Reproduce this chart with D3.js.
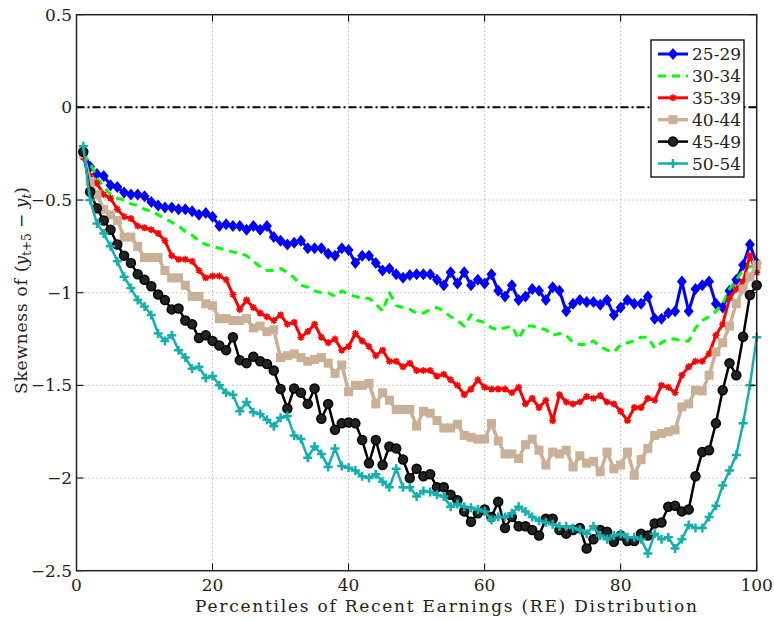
<!DOCTYPE html>
<html>
<head>
<meta charset="utf-8">
<script src="https://cdn.jsdelivr.net/npm/d3@7"></script>
<style>
  body { margin: 0; background: #fff; }
</style>
</head>
<body>
<div id="chart"></div>
<script>
// percentiles of recent earnings
var percentiles = d3.range(1, 101);
var seriesNames = ["25-29", "30-34", "35-39", "40-44", "45-49", "50-54"];
var xTicks = [0, 20, 40, 60, 80, 100];
var yTicks = [-2.5, -2, -1.5, -1, -0.5, 0, 0.5];

var age25 = [-0.24,-0.32,-0.36,-0.37,-0.42,-0.43,-0.46,-0.47,-0.47,-0.48,
  -0.51,-0.53,-0.54,-0.54,-0.55,-0.55,-0.56,-0.58,-0.57,-0.59,
  -0.64,-0.63,-0.64,-0.64,-0.66,-0.64,-0.66,-0.64,-0.70,-0.72,
  -0.74,-0.73,-0.72,-0.76,-0.76,-0.76,-0.79,-0.80,-0.76,-0.77,
  -0.84,-0.80,-0.80,-0.84,-0.88,-0.87,-0.90,-0.92,-0.905,-0.90,
  -0.90,-0.90,-0.93,-0.96,-0.89,-0.95,-0.89,-0.96,-0.93,-0.95,
  -0.90,-0.99,-1.02,-0.96,-1.04,-1.02,-0.98,-0.99,-1.04,-0.97,
  -0.99,-1.10,-1.06,-1.04,-1.05,-1.05,-1.065,-1.04,-1.12,-1.08,
  -1.04,-1.06,-1.06,-1.02,-1.14,-1.14,-1.11,-1.10,-0.94,-1.10,
  -0.98,-0.96,-0.94,-1.06,-1.08,-0.99,-0.93,-0.85,-0.74,-0.84];
var age30 = [-0.25,-0.30,-0.38,-0.43,-0.47,-0.49,-0.50,-0.52,-0.53,-0.55,
  -0.56,-0.58,-0.60,-0.62,-0.64,-0.67,-0.69,-0.72,-0.74,-0.75,
  -0.76,-0.77,-0.78,-0.79,-0.80,-0.83,-0.86,-0.88,-0.88,-0.87,
  -0.89,-0.92,-0.96,-0.97,-0.99,-1.00,-1.00,-1.02,-0.99,-1.01,
  -1.02,-1.03,-1.03,-1.06,-1.10,-1.00,-1.07,-1.08,-1.09,-1.11,
  -1.11,-1.09,-1.08,-1.10,-1.13,-1.15,-1.18,-1.12,-1.15,-1.16,
  -1.19,-1.20,-1.19,-1.18,-1.25,-1.18,-1.18,-1.19,-1.20,-1.23,
  -1.22,-1.23,-1.27,-1.28,-1.28,-1.26,-1.29,-1.31,-1.32,-1.28,
  -1.27,-1.26,-1.24,-1.24,-1.30,-1.27,-1.25,-1.25,-1.26,-1.26,
  -1.19,-1.15,-1.13,-1.10,-1.06,-0.98,-0.93,-0.88,-0.86,-0.85];
var age35 = [-0.27,-0.37,-0.41,-0.47,-0.49,-0.55,-0.59,-0.60,-0.64,-0.65,
  -0.66,-0.68,-0.72,-0.80,-0.82,-0.82,-0.83,-0.88,-0.92,-0.91,
  -0.91,-0.93,-1.01,-1.09,-1.04,-1.08,-1.11,-1.13,-1.15,-1.12,
  -1.17,-1.16,-1.24,-1.21,-1.17,-1.24,-1.27,-1.25,-1.31,-1.29,
  -1.22,-1.26,-1.29,-1.34,-1.31,-1.37,-1.37,-1.40,-1.38,-1.42,
  -1.42,-1.42,-1.45,-1.44,-1.47,-1.50,-1.55,-1.52,-1.47,-1.51,
  -1.52,-1.52,-1.52,-1.54,-1.51,-1.60,-1.57,-1.62,-1.58,-1.69,
  -1.55,-1.59,-1.60,-1.59,-1.56,-1.57,-1.555,-1.59,-1.60,-1.64,
  -1.69,-1.62,-1.62,-1.57,-1.58,-1.50,-1.51,-1.54,-1.445,-1.40,
  -1.37,-1.37,-1.33,-1.23,-1.17,-1.03,-0.98,-0.94,-0.80,-0.89];
var age40 = [-0.25,-0.40,-0.47,-0.55,-0.58,-0.61,-0.70,-0.70,-0.75,-0.81,
  -0.81,-0.81,-0.88,-0.92,-0.92,-0.96,-1.02,-1.02,-1.06,-1.07,
  -1.14,-1.14,-1.15,-1.15,-1.14,-1.19,-1.18,-1.21,-1.20,-1.35,
  -1.34,-1.33,-1.35,-1.37,-1.36,-1.35,-1.38,-1.435,-1.39,-1.535,
  -1.50,-1.50,-1.49,-1.60,-1.54,-1.58,-1.63,-1.63,-1.63,-1.72,
  -1.64,-1.65,-1.69,-1.73,-1.73,-1.71,-1.77,-1.78,-1.79,-1.79,
  -1.705,-1.80,-1.87,-1.87,-1.895,-1.82,-1.79,-1.85,-1.93,-1.86,
  -1.87,-1.85,-1.94,-1.88,-1.92,-1.91,-1.966,-1.86,-1.95,-1.93,
  -1.86,-1.985,-1.90,-1.84,-1.77,-1.76,-1.75,-1.74,-1.616,-1.60,
  -1.526,-1.53,-1.445,-1.32,-1.27,-1.18,-1.058,-0.98,-0.914,-0.85];
var age45 = [-0.24,-0.455,-0.545,-0.61,-0.66,-0.74,-0.80,-0.84,-0.90,-0.93,
  -0.965,-1.01,-1.04,-1.09,-1.085,-1.15,-1.17,-1.245,-1.23,-1.26,
  -1.285,-1.31,-1.24,-1.364,-1.38,-1.345,-1.37,-1.385,-1.42,-1.52,
  -1.625,-1.517,-1.54,-1.60,-1.517,-1.68,-1.60,-1.74,-1.705,-1.70,
  -1.705,-1.795,-1.92,-1.795,-1.93,-1.83,-1.84,-1.90,-2.00,-1.95,
  -1.99,-1.98,-2.05,-2.05,-2.09,-2.12,-2.18,-2.236,-2.19,-2.17,
  -2.21,-2.128,-2.27,-2.21,-2.26,-2.26,-2.28,-2.31,-2.22,-2.22,
  -2.28,-2.30,-2.28,-2.27,-2.38,-2.33,-2.28,-2.29,-2.344,-2.31,
  -2.34,-2.34,-2.30,-2.31,-2.245,-2.24,-2.155,-2.15,-2.18,-2.17,
  -1.99,-1.86,-1.85,-1.705,-1.526,-1.38,-1.445,-1.238,-1.013,-0.96];
var age50 = [-0.21,-0.50,-0.626,-0.68,-0.75,-0.83,-0.914,-0.975,-1.04,-1.075,
  -1.12,-1.22,-1.26,-1.23,-1.31,-1.35,-1.41,-1.40,-1.46,-1.45,
  -1.50,-1.54,-1.55,-1.64,-1.59,-1.645,-1.655,-1.685,-1.72,-1.675,
  -1.665,-1.77,-1.79,-1.89,-1.83,-1.87,-1.94,-1.84,-1.935,-1.945,
  -1.96,-1.99,-2.00,-1.98,-2.02,-2.05,-1.95,-2.05,-2.05,-2.10,
  -2.07,-2.075,-2.09,-2.10,-2.155,-2.14,-2.155,-2.16,-2.17,-2.18,
  -2.227,-2.21,-2.21,-2.19,-2.155,-2.18,-2.21,-2.23,-2.24,-2.25,
  -2.26,-2.26,-2.27,-2.28,-2.30,-2.26,-2.31,-2.33,-2.31,-2.30,
  -2.32,-2.32,-2.33,-2.407,-2.30,-2.33,-2.32,-2.38,-2.33,-2.254,
  -2.27,-2.27,-2.21,-2.15,-2.04,-1.96,-1.876,-1.705,-1.50,-1.24];

var W = 774, H = 622;
var plotL = 76.5, plotR = 756.7, plotT = 14.7, plotB = 570.7;
var FONT = "'DejaVu Serif', 'Liberation Serif', serif";

var svg = d3.select("#chart").append("svg")
    .attr("width", W).attr("height", H)
    .attr("font-family", FONT);
svg.append("rect").attr("width", W).attr("height", H).attr("fill", "#fff");

var x = d3.scaleLinear().domain([0, 100]).range([plotL, plotR]);
var y = d3.scaleLinear().domain([-2.5, 0.5]).range([plotB, plotT]);

// dotted grid
var grid = svg.append("g");
grid.selectAll("line.gx").data(xTicks.slice(1, -1)).enter().append("line")
    .attr("x1", d => x(d)).attr("x2", d => x(d))
    .attr("y1", plotT).attr("y2", plotB)
    .attr("stroke", "#999").attr("stroke-width", 1).attr("stroke-dasharray", "1,3");
grid.selectAll("line.gy").data(yTicks.slice(1, -1)).enter().append("line")
    .attr("x1", plotL).attr("x2", plotR)
    .attr("y1", d => y(d)).attr("y2", d => y(d))
    .attr("stroke", "#999").attr("stroke-width", 1).attr("stroke-dasharray", "1,3");

// zero reference line
svg.append("line")
    .attr("x1", x(0)).attr("x2", x(100)).attr("y1", y(0)).attr("y2", y(0))
    .attr("stroke", "#000").attr("stroke-width", 2).attr("stroke-dasharray", "8,3,2,3");

// series styles
var styles = [
  {data: age25, color: "#0000ff", width: 3, dash: null, marker: "diamond"},
  {data: age30, color: "#00ff00", width: 3, dash: "8,6", marker: null},
  {data: age35, color: "#ff0000", width: 3, dash: null, marker: "star"},
  {data: age40, color: "#c9b096", width: 3.5, dash: null, marker: "square"},
  {data: age45, color: "#000000", width: 2.5, dash: null, marker: "circle"},
  {data: age50, color: "#14b0b0", width: 2.5, dash: null, marker: "plus"}
];

function drawMarker(g, type, color) {
  if (type === "diamond") {
    g.append("path").attr("d", "M0,-6L5,0L0,6L-5,0Z").attr("fill", color);
  } else if (type === "star") {
    g.append("path").attr("d", "M-3.5,0H3.5M0,-3.5V3.5M-2.5,-2.5L2.5,2.5M-2.5,2.5L2.5,-2.5")
      .attr("stroke", color).attr("stroke-width", 1.6).attr("fill", "none");
  } else if (type === "square") {
    g.append("rect").attr("x", -4.5).attr("y", -4.5).attr("width", 9).attr("height", 9).attr("fill", color);
  } else if (type === "circle") {
    g.append("circle").attr("r", 4.5).attr("fill", "#222").attr("stroke", color).attr("stroke-width", 1.5);
  } else if (type === "plus") {
    g.append("path").attr("d", "M-4.5,0H4.5M0,-4.5V4.5")
      .attr("stroke", color).attr("stroke-width", 2.5).attr("fill", "none");
  }
}

var line = d3.line().x((d, i) => x(percentiles[i])).y(d => y(d));

styles.forEach(function(s) {
  var g = svg.append("g");
  g.append("path").datum(s.data)
    .attr("d", line)
    .attr("fill", "none")
    .attr("stroke", s.color)
    .attr("stroke-width", s.width)
    .attr("stroke-linejoin", "round")
    .attr("stroke-dasharray", s.dash);
  if (s.marker) {
    g.selectAll("g.m").data(s.data).enter().append("g")
      .attr("transform", (d, i) => "translate(" + x(percentiles[i]) + "," + y(d) + ")")
      .each(function() { drawMarker(d3.select(this), s.marker, s.color); });
  }
});

// axes box with inward ticks
var tl = 7;
var ticks = svg.append("g").attr("stroke", "#000").attr("stroke-width", 1);
xTicks.forEach(function(t) {
  ticks.append("line").attr("x1", x(t)).attr("x2", x(t)).attr("y1", plotB).attr("y2", plotB - tl);
  ticks.append("line").attr("x1", x(t)).attr("x2", x(t)).attr("y1", plotT).attr("y2", plotT + tl);
});
yTicks.forEach(function(t) {
  ticks.append("line").attr("x1", plotL).attr("x2", plotL + tl).attr("y1", y(t)).attr("y2", y(t));
  ticks.append("line").attr("x1", plotR).attr("x2", plotR - tl).attr("y1", y(t)).attr("y2", y(t));
});
svg.append("rect")
    .attr("x", plotL).attr("y", plotT).attr("width", plotR - plotL).attr("height", plotB - plotT)
    .attr("fill", "none").attr("stroke", "#222").attr("stroke-width", 1.5);

// tick labels
function fmt(v) { return v < 0 ? "\u2212" + Math.abs(v) : String(v); }
svg.selectAll("text.xt").data(xTicks).enter().append("text")
    .attr("x", d => x(d)).attr("y", 591)
    .attr("text-anchor", "middle").attr("font-size", 17).attr("fill", "#222")
    .text(d => fmt(d));
svg.selectAll("text.yt").data(yTicks).enter().append("text")
    .attr("x", 72).attr("y", d => y(d) + 6)
    .attr("text-anchor", "end").attr("font-size", 17).attr("fill", "#222")
    .text(d => fmt(d));

// axis titles
svg.append("text")
    .attr("x", 195).attr("y", 612)
    .attr("font-size", 17).attr("fill", "#222")
    .attr("textLength", 502).attr("lengthAdjust", "spacing")
    .text("Percentiles of Recent Earnings (RE) Distribution");

var yl = svg.append("text")
    .attr("transform", "translate(27,394) rotate(-90)")
    .attr("font-size", 17).attr("fill", "#222");
yl.append("tspan").attr("letter-spacing", 0.8).text("Skewness of ");
yl.append("tspan").text("(");
yl.append("tspan").attr("font-style", "italic").text("y");
yl.append("tspan").attr("font-size", 12).attr("dy", 4).text("t+5");
yl.append("tspan").attr("dy", -4).text(" \u2212 ");
yl.append("tspan").attr("font-style", "italic").text("y");
yl.append("tspan").attr("font-size", 12).attr("font-style", "italic").attr("dy", 4).text("t");
yl.append("tspan").attr("dy", -4).text(")");

// legend
var lg = svg.append("g");
lg.append("rect").attr("x", 651).attr("y", 40).attr("width", 93).attr("height", 137)
    .attr("fill", "#fff").attr("stroke", "#000").attr("stroke-width", 1.3);
var ly = d3.scalePoint().domain(seriesNames).range([54, 163.5]);
styles.forEach(function(s, i) {
  var yy = ly(seriesNames[i]);
  lg.append("line").attr("x1", 658).attr("x2", 688).attr("y1", yy).attr("y2", yy)
    .attr("stroke", s.color).attr("stroke-width", s.width).attr("stroke-dasharray", s.dash);
  if (s.marker) {
    var m = lg.append("g").attr("transform", "translate(673," + yy + ")");
    drawMarker(m, s.marker, s.color);
  }
  lg.append("text").attr("x", 692).attr("y", yy + 6).attr("font-size", 17)
    .attr("fill", "#222").text(seriesNames[i]);
});
</script>
</body>
</html>
